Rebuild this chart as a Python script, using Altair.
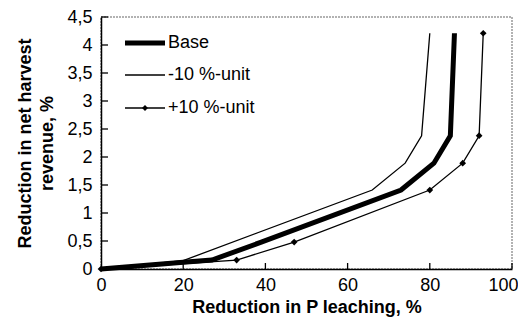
import altair as alt
import pandas as pd

# Series data (x: reduction in P leaching %, y: reduction in net harvest revenue %)
base_x = [0, 20, 27, 39, 73, 81, 85, 86]
base_y = [0, 0.12, 0.16, 0.48, 1.41, 1.89, 2.38, 4.21]
minus_x = [0, 20, 66, 74, 78, 80]
minus_y = [0, 0.15, 1.41, 1.89, 2.38, 4.21]
plus_x = [0, 33, 47, 80, 88, 92, 93]
plus_y = [0, 0.16, 0.48, 1.41, 1.89, 2.38, 4.21]

series_names = ["Base", "-10 %-unit", "+10 %-unit"]
x_ticks = [0, 20, 40, 60, 80, 100]
y_ticks = [0, 0.5, 1, 1.5, 2, 2.5, 3, 3.5, 4, 4.5]

FONT = "Liberation Sans"
FS = 18

df_base = pd.DataFrame({"x": base_x, "y": base_y, "s": series_names[0]})
df_minus = pd.DataFrame({"x": minus_x, "y": minus_y, "s": series_names[1]})
df_plus = pd.DataFrame({"x": plus_x, "y": plus_y, "s": series_names[2]})

xscale = alt.Scale(domain=[0, 100], nice=False, zero=True)
yscale = alt.Scale(domain=[0, 4.5], nice=False, zero=True)

xenc = alt.X(
    "x:Q", scale=xscale,
    axis=alt.Axis(
        values=x_ticks, title="Reduction in P leaching, %", tickSize=0,
        labelPadding=7, titlePadding=4, grid=False,
        labelOverlap=False, labelFlush=False, labelBound=False,
        labelAlign={"condition": {"test": "datum.value == 100", "value": "right"}, "value": "center"},
        labelOffset={"condition": {"test": "datum.value == 100", "value": 6}, "value": 0},
        domainColor="black", domainWidth=1.5,
        labelFont=FONT, labelFontSize=FS, labelColor="black",
        titleFont=FONT, titleFontSize=FS, titleFontWeight="bold", titleColor="black",
    ),
)
yenc = alt.Y(
    "y:Q", scale=yscale,
    axis=alt.Axis(
        values=y_ticks, title=["Reduction in net harvest", "revenue, %"], tickSize=0,
        labelPadding=9, titlePadding=10, grid=False,
        labelOverlap=False, labelFlush=False, labelBound=False,
        labelExpr="replace(format(datum.value, '.1~f'), '.', ',')",
        domainColor="black", domainWidth=1.5,
        labelFont=FONT, labelFontSize=FS, labelColor="black",
        titleFont=FONT, titleFontSize=FS, titleFontWeight="bold", titleColor="black",
        titleLineHeight=22,
    ),
)

base_line = alt.Chart(df_base).mark_line(color="black", strokeWidth=5, strokeJoin="miter").encode(
    x=xenc, y=yenc)
minus_line = alt.Chart(df_minus).mark_line(color="black", strokeWidth=1.3).encode(
    x=xenc, y=yenc)
plus_line = alt.Chart(df_plus).mark_line(color="black", strokeWidth=1.3).encode(
    x=xenc, y=yenc)
plus_pts = alt.Chart(df_plus).mark_point(
    shape="diamond", filled=True, color="black", size=45, opacity=1).encode(
    x=xenc, y=yenc)

# inward tick marks
df_xt = pd.DataFrame({"x": x_ticks[1:]})
df_yt = pd.DataFrame({"y": y_ticks[1:]})
xt = alt.Chart(df_xt).mark_rule(color="black", strokeWidth=1.3).encode(
    x=xenc, y=alt.value(252), y2=alt.value(246))
yt = alt.Chart(df_yt).mark_rule(color="black", strokeWidth=1.3).encode(
    y=yenc, x=alt.value(0), x2=alt.value(7))

# custom legend
leg_rows = [26, 58, 91]
leg_layers = []
widths = [5, 1.3, 1.3]
for name, yy, w in zip(series_names, leg_rows, widths):
    d = pd.DataFrame({"s": [name]})
    leg_layers.append(alt.Chart(d).mark_rule(color="black", strokeWidth=w).encode(
        x=alt.value(24), x2=alt.value(64), y=alt.value(yy)))
    leg_layers.append(alt.Chart(d).mark_text(
        align="left", baseline="middle", font=FONT, fontSize=FS, color="black").encode(
        x=alt.value(67), y=alt.value(yy), text="s:N"))
leg_layers.append(alt.Chart(pd.DataFrame({"s": [series_names[2]]})).mark_point(
    shape="diamond", filled=True, color="black", size=35, opacity=1).encode(
    x=alt.value(44), y=alt.value(leg_rows[2])))

chart = alt.layer(
    base_line, minus_line, plus_line, plus_pts, xt, yt, *leg_layers
).properties(
    width=411, height=252,
    autosize=alt.AutoSizeParams(type="none"),
    padding={"left": 93, "top": 9, "right": 6, "bottom": 49},
    background="white",
).configure_view(
    stroke="#999999", strokeDash=[2, 1], strokeWidth=1.5
)

chart.save("out.html", embed_options={"renderer": "svg", "actions": False})
